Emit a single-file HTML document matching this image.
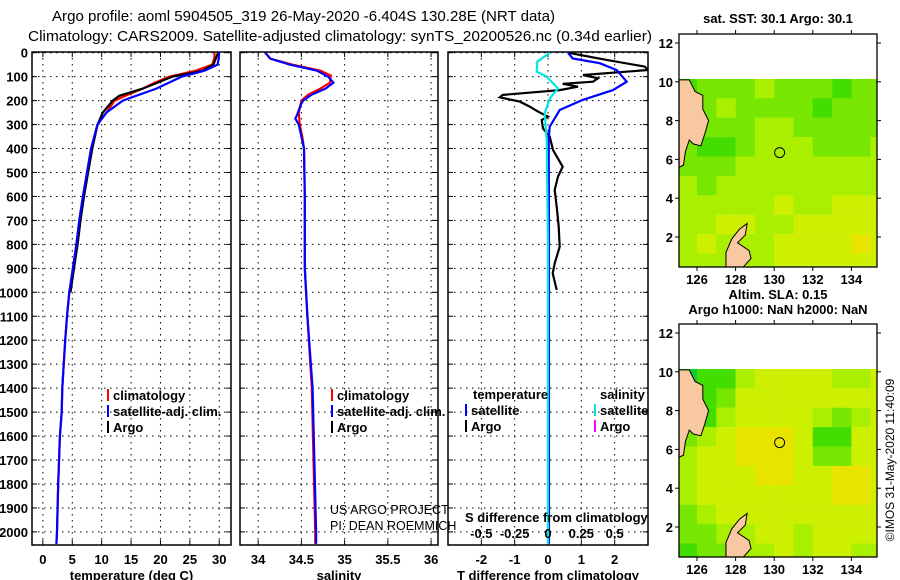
<!DOCTYPE html>
<html><head><meta charset="utf-8"><style>
html,body{margin:0;padding:0;background:#fff}
svg{display:block;font-family:"Liberation Sans",sans-serif}
.tl{font-size:13px;font-weight:bold}
</style></head><body>
<svg id="fig" xmlns="http://www.w3.org/2000/svg" width="900" height="580" viewBox="0 0 900 580">
<text x="52" y="21" font-size="15" textLength="503" lengthAdjust="spacingAndGlyphs">Argo profile: aoml 5904505_319 26-May-2020 -6.404S 130.28E (NRT data)</text>
<text x="28" y="41" font-size="15" textLength="624" lengthAdjust="spacingAndGlyphs">Climatology: CARS2009. Satellite-adjusted climatology: synTS_20200526.nc (0.34d earlier)</text>
<g id="panels"></g>
<g id="maps"></g>
<text transform="translate(894,460) rotate(-90)" text-anchor="middle" font-size="12">©IMOS 31-May-2020 11:40:09</text>
</svg>
<script>
// ---- profile data (depth m) ----
const tClimDepth=[0,20,50,75,100,125,150,175,200,250,300,400,500,600,700,800,900,1000,1100,1200,1400,1500,1600,1800,2000,2050];
const tClimVal=[29.2,29.2,28.8,26.0,21.5,19.0,17.0,14.5,12.2,10.8,9.3,8.2,7.5,6.8,6.2,5.7,5.1,4.5,4.1,3.8,3.3,3.2,2.9,2.6,2.4,2.3];
const tSatDepth=[0,25,50,75,100,150,200,250,300,400,500,600,700,800,900,1000,1100,1200,1400,1500,1600,1800,2000,2050];
const tSatVal=[30.0,29.9,29.7,27.5,23.6,19.3,13.6,10.8,9.3,8.2,7.5,6.8,6.2,5.7,5.1,4.5,4.1,3.8,3.3,3.2,2.9,2.6,2.4,2.3];
const tArgoDepth=[0,50,75,100,150,180,200,250,300,400,500,600,700,800,900,1000];
const tArgoVal=[29.8,29.0,27.2,22.0,17.0,13.0,11.9,10.2,9.3,8.4,7.7,7.0,6.4,5.9,5.3,4.7];
const sClimDepth=[0,25,50,75,95,125,150,175,200,250,300,350,400,600,900,1100,1400,2000,2050];
const sClimVal=[34.08,34.14,34.40,34.72,34.84,34.83,34.72,34.58,34.50,34.47,34.48,34.51,34.53,34.54,34.54,34.57,34.62,34.66,34.66];
const sSatDepth=[0,25,50,75,100,125,150,175,200,220,260,275,300,350,400,600,900,1100,1400,2000,2050];
const sSatVal=[34.085,34.14,34.37,34.68,34.81,34.87,34.78,34.62,34.52,34.49,34.45,34.43,34.47,34.50,34.53,34.54,34.54,34.57,34.63,34.67,34.67];
const dtArgoDepth=[0,30,58,72,93,107,121,130,142,156,176,186,204,225,246,267,281,316,350,406,476,517,573,643,726,810,879,921,990];
const dtArgoVal=[0.6,1.76,2.9,3.0,1.05,1.5,1.35,0.44,0.9,0.35,-1.36,-1.45,-0.85,-0.55,-0.3,0,-0.19,-0.15,0.05,0.15,0.44,0.3,0.2,0.26,0.32,0.35,0.2,0.14,0.26];
const dtSatDepth=[0,24,44,72,121,156,197,239,274,309,364,800,1500,2050];
const dtSatVal=[0.6,0.74,1.55,2.06,2.36,1.95,1.04,0.35,0.2,0.05,0.02,0.03,0.03,0.03];
const dsSatDepth=[0,37,79,100,149,190,253,364,800,2050];
const dsSatVal=[0.015,-0.08,-0.085,-0.01,0.075,0.015,-0.025,-0.01,0.0,0.0];
const depthTicks=[0,100,200,300,400,500,600,700,800,900,1000,1100,1200,1300,1400,1500,1600,1700,1800,1900,2000];
const tTicks=[0,5,10,15,20,25,30];
const sTicks=[34,34.5,35,35.5,36];
const dTicks=[-2,-1,0,1,2];
const dsTickLabels=["-0.5","-0.25","0","0.25","0.5"];
const dsTickVals=[-0.5,-0.25,0,0.25,0.5];

const NS="http://www.w3.org/2000/svg";
function el(tag,attrs,parent,txt){const e=document.createElementNS(NS,tag);for(const k in attrs)e.setAttribute(k,attrs[k]);if(txt!==undefined)e.textContent=txt;parent.appendChild(e);return e;}
const yD=d=>52.7+d*0.2396;
const Y0=52, Y1=545;
const panels=[
 {name:'temperature',x0:32,x1:231,v0:-1.85,v1:32.0,ticks:tTicks,title:'temperature (deg C)'},
 {name:'salinity',x0:240,x1:438,v0:33.79,v1:36.08,ticks:sTicks,title:'salinity'},
 {name:'difference',x0:448,x1:648,v0:-3,v1:3,ticks:dTicks,title:'T difference from climatology'}];
panels.forEach(p=>{p.sx=v=>p.x0+(v-p.v0)/(p.v1-p.v0)*(p.x1-p.x0);});
const G=document.getElementById('panels');
panels.forEach((p,i)=>{
 const g=el('g',{},G);
 
 
 depthTicks.forEach(d=>{
  const y=yD(d);
  const gl=el('line',{x1:p.x0,x2:p.x1,y1:y,y2:y,stroke:'#000','stroke-width':1,'stroke-dasharray':'1.5,4.5'},g);
  
  
  el('line',{x1:p.x0,x2:p.x0+5,y1:y,y2:y,stroke:'#000'},g);
  el('line',{x1:p.x1-5,x2:p.x1,y1:y,y2:y,stroke:'#000'},g);
  if(i===0){const t=el('text',{x:28,y:y+5,'text-anchor':'end',class:'tl'},g,String(d));
   
   }
 });
 p.ticks.forEach(v=>{
  const x=p.sx(v);
  el('line',{x1:x,x2:x,y1:Y0,y2:Y1,stroke:'#000','stroke-dasharray':'1.5,4.5'},g);
  el('line',{x1:x,x2:x,y1:Y0,y2:Y0+5,stroke:'#000'},g);
  el('line',{x1:x,x2:x,y1:Y1-5,y2:Y1,stroke:'#000'},g);
  const t=el('text',{x:x,y:564,'text-anchor':'middle',class:'tl'},g,String(v));
  
  
 });
 const at=el('text',{x:(p.x0+p.x1)/2,y:580,'text-anchor':'middle',class:'tl'},g,p.title);
 
 
 const fr=el('rect',{x:p.x0,y:Y0,width:p.x1-p.x0,height:Y1-Y0,fill:'none',stroke:'#000','stroke-width':1.5},g);
 
 
});
function line(p,depths,vals,color,name,scale){
 const pts=depths.map((d,i)=>p.sx(vals[i]*(scale||1)).toFixed(1)+','+yD(d).toFixed(1)).join(' ');
 const l=el('polyline',{points:pts,fill:'none',stroke:color,'stroke-width':2.2,'clip-path':'url(#c'+p.name+')'},G);
 
 
}
const defs=el('defs',{},G);
panels.forEach(p=>{const c=el('clipPath',{id:'c'+p.name},defs);el('rect',{x:p.x0,y:Y0,width:p.x1-p.x0,height:Y1-Y0},c);});
line(panels[0],tClimDepth,tClimVal,'#ff0000','temperature-climatology-line');
line(panels[0],tArgoDepth,tArgoVal,'#000000','temperature-argo-line');
line(panels[0],tSatDepth,tSatVal,'#0000ff','temperature-satellite-line');
line(panels[1],sClimDepth,sClimVal,'#ff0000','salinity-climatology-line');
line(panels[1],sSatDepth,sSatVal,'#0000ff','salinity-satellite-line');
line(panels[2],dtArgoDepth,dtArgoVal,'#000000','t-diff-argo-line');
line(panels[2],dtSatDepth,dtSatVal,'#0000ff','t-diff-satellite-line');
line(panels[2],dsSatDepth,dsSatVal,'#00e5e5','s-diff-satellite-line',4);
function leg(x,y,color,label,name){
 el('line',{x1:x,x2:x,y1:y-11,y2:y+1,stroke:color,'stroke-width':2},G);
 const t=el('text',{x:x+5,y:y,class:'tl','font-weight':'bold','font-size':'12.5'},G,label);
 
 
}
leg(108,400,'#ff0000','climatology','legend-climatology');
leg(108,416,'#0000ff','satellite-adj. clim.','legend-satellite');
leg(108,432,'#000','Argo','legend-argo');
leg(332,400,'#ff0000','climatology','legend-s-climatology');
leg(332,416,'#0000ff','satellite-adj. clim.','legend-s-satellite');
leg(332,432,'#000','Argo','legend-s-argo');
const tt=el('text',{x:473,y:399,class:'tl'},G,'temperature');


const st=el('text',{x:600,y:399,class:'tl'},G,'salinity');


leg(466,415,'#0000ff','satellite','legend-t-satellite');
leg(466,431,'#000','Argo','legend-t-argo');
leg(595,415,'#00e5e5','satellite','legend-s-satellite-diff');
leg(595,431,'#ff00ff','Argo','legend-s-argo-diff');
const u1=el('text',{x:330,y:514,'font-size':'12.5'},G,'US ARGO PROJECT');


const u2=el('text',{x:330,y:530,'font-size':'12.5'},G,'PI: DEAN ROEMMICH');


const sd=el('text',{x:465,y:522,class:'tl'},G,'S difference from climatology');


dsTickVals.forEach((v,i)=>{
 const t=el('text',{x:panels[2].sx(v*4),y:538,'text-anchor':'middle',class:'tl'},G,dsTickLabels[i]);
 
 
});

// ---- maps ----
const sstGrid=[
[1,2,2,2,3,2,2,2,1,2,2],
[1,2,3,2,2,2,2,1,2,2,2],
[1,2,2,2,3,3,2,2,2,2,2],
[2,1,1,2,3,3,3,2,2,2,3],
[2,2,2,3,3,3,3,3,3,3,3],
[3,2,3,3,3,3,3,3,3,3,3],
[3,3,3,3,3,4,3,3,4,4,4],
[3,3,4,4,3,3,4,4,4,4,4],
[3,4,3,3,3,4,4,4,4,5,4],
[3,3,3,3,3,4,4,4,4,4,4]];
const slaGrid=[
[0,1,1,3,4,4,4,4,3,3,4],
[1,1,2,4,4,4,4,4,4,4,4],
[1,1,3,4,4,4,4,3,2,3,4],
[2,3,4,5,5,5,4,1,1,4,4],
[3,4,4,5,5,5,4,2,2,4,4],
[3,4,4,4,5,5,4,4,5,5,4],
[3,4,4,4,4,4,4,4,5,5,4],
[2,3,4,4,4,4,4,4,4,4,4],
[2,2,3,3,4,4,3,4,4,4,4],
[1,2,2,3,3,4,3,4,4,3,3]];
const palette=['#11cc33','#44dd00','#77e600','#aaee00','#ccf000','#e8e400'];
const lonTicks=[126,128,130,132,134];
const latTicks=[2,4,6,8,10,12];
const argoLon=130.28, argoLat=6.35;
const mindanao=[[125.07,10.1],[125.6,10.1],[125.9,9.5],[126.3,9.3],[126.3,8.6],[126.6,8.0],[126.4,7.3],[126.2,6.7],[125.8,6.8],[125.6,7.0],[125.4,6.4],[125.3,5.7],[125.07,5.6]];
const halmahera=[[127.5,0.45],[127.5,1.2],[127.8,1.9],[128.2,2.4],[128.6,2.7],[128.5,2.1],[128.1,1.7],[128.7,1.3],[128.8,0.9],[128.4,0.45]];
const mapsG=document.getElementById('maps');
function drawMap(oy,grid,titles,name){
 const g=el('g',{},mapsG);
 
 
 const X=lon=>697+(lon-126)*19.3, Yl=lat=>oy+43+(12-lat)*19.4;
 const x0=679,x1=877,yt=oy+34,yb=oy+267;
 const cg=el('clipPath',{id:'cm'+oy},g);el('rect',{x:x0,y:Yl(10.15),width:x1-x0,height:yb-Yl(10.15)},cg);
 const cells=el('g',{'clip-path':'url(#cm'+oy+')'},g);
 grid.forEach((row,r)=>row.forEach((v,c)=>{
  const lon=125+c, latTop=10.15-r;
  const rc=el('rect',{x:X(lon),y:Yl(latTop),width:19.5,height:19.6,fill:palette[v]},cells);
  
  
 }));
 [mindanao,halmahera].forEach(poly=>{
  const pg=el('polygon',{points:poly.map(p=>X(p[0])+','+Yl(p[1])).join(' '),fill:'#f8c8a0',stroke:'#000','stroke-width':1},cells);
  
  
 });
 const ci=el('circle',{cx:X(argoLon),cy:Yl(argoLat),r:5,fill:'none',stroke:'#000','stroke-width':1},g);
 
 
 el('rect',{x:x0,y:yt,width:x1-x0,height:yb-yt,fill:'none',stroke:'#000','stroke-width':1.3},g);
 lonTicks.forEach(l=>{const x=X(l);
  el('line',{x1:x,x2:x,y1:yt-4,y2:yt,stroke:'#000'},g);
  el('line',{x1:x,x2:x,y1:yb,y2:yb+4,stroke:'#000'},g);
  const t=el('text',{x:x,y:yb+17,'text-anchor':'middle',class:'tl'},g,String(l));
  
  });
 latTicks.forEach(l=>{const y=Yl(l);
  el('line',{x1:x0-4,x2:x0,y1:y,y2:y,stroke:'#000'},g);
  el('line',{x1:x1,x2:x1+4,y1:y,y2:y,stroke:'#000'},g);
  const t=el('text',{x:x0-6,y:y+5,'text-anchor':'end',class:'tl'},g,String(l));
  
  });
 titles.forEach((tx,i)=>{const t=el('text',{x:778,y:tx[1],'text-anchor':'middle',class:'tl','font-size':'12'},g,tx[0]);
  
  });
}
drawMap(0,sstGrid,[['sat. SST: 30.1 Argo: 30.1',23]],'sst-map');
drawMap(290,slaGrid,[['Altim. SLA: 0.15',299],['Argo h1000: NaN h2000: NaN',314]],'sla-map');
</script>
</body></html>
